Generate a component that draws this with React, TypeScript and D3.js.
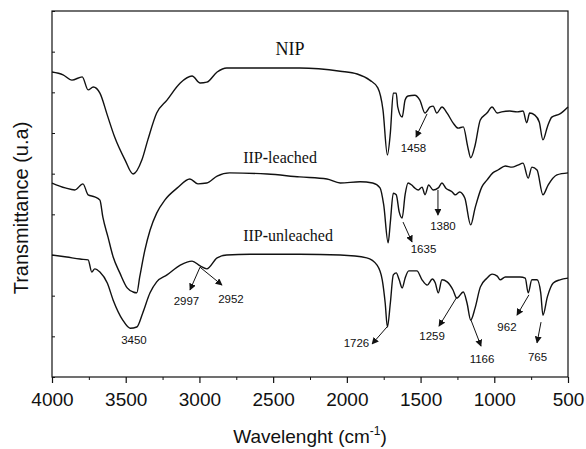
import * as d3 from "d3";
import { useEffect, useRef } from "react";

// FTIR spectra, [wavenumber cm-1, transmittance a.u.]
const nip: [number, number][] = [
  [4000, 75.0], [3925, 74.3], [3865, 73.0], [3795, 73.8], [3755, 70.6], [3720, 71.3],
  [3675, 69.8], [3625, 64.4], [3575, 59.0], [3505, 53.4], [3450, 49.9], [3390, 53.4],
  [3350, 58.3], [3290, 64.9], [3220, 68.1], [3130, 72.3], [3050, 74.0], [2995, 72.3],
  [2950, 72.5], [2880, 75.0], [2815, 76.0], [2655, 76.0], [2320, 76.0], [2045, 75.2],
  [1930, 74.5], [1845, 73.0], [1790, 71.1], [1755, 65.7], [1725, 54.6], [1705, 60.0],
  [1685, 69.8], [1665, 69.8], [1655, 66.4], [1625, 63.9], [1605, 68.1], [1585, 69.1],
  [1540, 69.3], [1505, 68.1], [1470, 64.9], [1435, 66.4], [1415, 66.6], [1390, 64.9],
  [1355, 66.4], [1320, 64.9], [1280, 62.5], [1245, 61.2], [1210, 61.5], [1180, 56.6],
  [1160, 53.9], [1130, 57.0], [1095, 63.2], [1050, 64.9], [1015, 66.4], [980, 64.9],
  [950, 65.2], [895, 65.4], [845, 65.2], [805, 65.4], [780, 62.5], [760, 64.9],
  [725, 64.4], [695, 62.7], [670, 58.3], [640, 61.5], [610, 63.9], [555, 64.7], [500, 66.4],
];

const leached: [number, number][] = [
  [4000, 47.7], [3910, 46.5], [3845, 46.0], [3790, 47.5], [3755, 44.8], [3710, 44.3],
  [3675, 43.5], [3655, 39.3], [3620, 34.4], [3585, 29.5], [3540, 25.6], [3490, 21.9],
  [3450, 20.9], [3425, 20.7], [3405, 24.6], [3370, 31.2], [3335, 36.1], [3290, 40.3],
  [3235, 43.5], [3150, 46.5], [3065, 48.7], [3010, 47.5], [2950, 47.7], [2880, 49.4],
  [2795, 50.2], [2540, 49.9], [2320, 49.2], [2135, 48.7], [2045, 47.7], [1910, 48.0],
  [1825, 47.7], [1775, 46.5], [1750, 42.3], [1720, 33.0], [1705, 38.1], [1685, 45.2],
  [1665, 44.8], [1645, 40.6], [1625, 39.1], [1605, 44.8], [1585, 47.7], [1560, 47.2],
  [1540, 46.5], [1515, 46.0], [1490, 46.7], [1470, 44.8], [1445, 47.2], [1415, 46.0],
  [1380, 46.5], [1355, 47.7], [1330, 46.5], [1285, 45.5], [1265, 44.8], [1235, 45.5],
  [1200, 44.0], [1160, 37.4], [1130, 41.6], [1085, 46.7], [1050, 48.4], [1010, 50.2],
  [975, 50.9], [925, 51.9], [880, 51.6], [840, 52.1], [805, 52.6], [770, 48.9],
  [745, 51.6], [710, 50.9], [670, 44.8], [635, 47.2], [575, 49.7], [500, 50.2],
];

const unleached: [number, number][] = [
  [4000, 30.0], [3900, 29.5], [3810, 29.0], [3755, 28.8], [3730, 25.8], [3710, 26.6],
  [3675, 25.8], [3625, 23.1], [3585, 18.9], [3520, 14.0], [3470, 12.0], [3425, 12.3],
  [3385, 15.7], [3335, 20.7], [3290, 23.4], [3220, 25.1], [3130, 27.5], [3050, 28.5],
  [2995, 27.3], [2950, 26.6], [2880, 29.3], [2815, 30.0], [2655, 30.2], [2320, 30.2],
  [2045, 30.0], [1865, 29.3], [1795, 27.5], [1760, 23.9], [1740, 18.2], [1725, 12.3],
  [1705, 18.2], [1685, 25.1], [1665, 25.6], [1645, 23.9], [1625, 21.9], [1605, 24.3],
  [1580, 26.1], [1525, 26.1], [1490, 23.9], [1455, 22.6], [1420, 24.1], [1400, 23.1],
  [1380, 20.7], [1355, 23.9], [1320, 23.4], [1280, 21.4], [1255, 19.4], [1210, 20.9],
  [1185, 18.2], [1160, 14.0], [1130, 17.0], [1095, 22.1], [1050, 24.3], [1015, 25.3],
  [980, 24.8], [960, 23.9], [925, 24.6], [880, 24.6], [825, 24.6], [790, 24.3],
  [770, 20.7], [745, 23.9], [710, 23.9], [685, 20.7], [670, 15.2], [640, 19.7],
  [600, 23.1], [555, 23.9], [500, 24.3],
];

const seriesNames = ["NIP", "IIP-leached", "IIP-unleached"];
// label anchor in data units [wavenumber, value]
const seriesLabelAt: [number, number][] = [[2386, 79.2], [2453, 52.6], [2399, 33.4]];

// peak labels: text, text anchor, arrow from, arrow to (data units)
const peakText = ["1458", "1380", "1635", "3450", "2997", "2952", "1726", "1259", "1166", "962", "765"];
const peakTextAt: [number, number][] = [
  [1548, 55.3], [1348, 36.1], [1480, 30.5], [3444, 8.1], [3088, 17.7], [2786, 18.2],
  [1935, 7.4], [1422, 9.1], [1083, 3.4], [914, 11.3], [707, 3.9],
];
const peakArrowFrom: ([number, number] | null)[] = [
  [1456, 64.7], [1382, 46.0], [1619, 38.1], null, [2996, 27.0], [2996, 27.0],
  [1728, 12.3], [1253, 19.7], [1158, 14.0], [765, 20.2], [683, 13.5],
];
const peakArrowTo: ([number, number] | null)[] = [
  [1531, 59.0], [1382, 39.8], [1558, 33.2], null, [3064, 21.4], [2847, 22.6],
  [1829, 8.1], [1375, 12.5], [1090, 7.6], [846, 15.2], [710, 8.4],
];

const xTicks = [4000, 3500, 3000, 2500, 2000, 1500, 1000, 500];
const xMinorTicks = [3750, 3250, 2750, 2250, 1750, 1250, 750];
const yTicks = [0, 10, 20, 30, 40, 50, 60, 70, 80, 90];

const W = 586;
const H = 449;
const left = 52, right = 568, top = 11, bottom = 377;

const sans = "'Liberation Sans', Arial, sans-serif";
const serif = "'Liberation Serif', 'Times New Roman', serif";

export default function App() {
  const svgRef = useRef<SVGSVGElement>(null);

  useEffect(() => {
    const svg = d3.select(svgRef.current);
    svg.selectAll("*").remove();

    const x = d3.scaleLinear().domain([4000, 500]).range([left, right]);
    const y = d3.scaleLinear().domain([0, 90]).range([bottom, top]);

    svg.append("defs").append("marker")
      .attr("id", "arr")
      .attr("viewBox", "0 0 10 10")
      .attr("refX", 9).attr("refY", 5)
      .attr("markerWidth", 7).attr("markerHeight", 7)
      .attr("markerUnits", "userSpaceOnUse")
      .attr("orient", "auto")
      .append("path").attr("d", "M0,0 L10,5 L0,10 Z").attr("fill", "#111");

    // frame
    svg.append("rect")
      .attr("x", left).attr("y", top)
      .attr("width", right - left).attr("height", bottom - top)
      .attr("fill", "none").attr("stroke", "#111").attr("stroke-width", 1.2);

    // x axis
    const xAxis = d3.axisBottom(x).tickValues(xTicks).tickSize(6).tickSizeOuter(0).tickPadding(10)
      .tickFormat(d3.format("d"));
    const gx = svg.append("g").attr("transform", `translate(0,${bottom})`).call(xAxis);
    gx.select(".domain").remove();
    gx.selectAll("line").attr("stroke", "#111").attr("stroke-width", 1.2);
    gx.selectAll("text").attr("font-family", sans).attr("font-size", 19).attr("fill", "#111");

    const gxm = svg.append("g").attr("transform", `translate(0,${bottom})`)
      .call(d3.axisBottom(x).tickValues(xMinorTicks).tickSize(3).tickFormat(() => ""));
    gxm.select(".domain").remove();
    gxm.selectAll("line").attr("stroke", "#111").attr("stroke-width", 1);

    // y axis, inward ticks only
    const gy = svg.append("g").attr("transform", `translate(${left},0)`)
      .call(d3.axisLeft(y).tickValues(yTicks).tickSize(-3).tickFormat(() => ""));
    gy.select(".domain").remove();
    gy.selectAll("line").attr("stroke", "#111").attr("stroke-width", 1);

    // spectra
    const line = d3.line<[number, number]>()
      .x((d) => x(d[0]))
      .y((d) => y(d[1]))
      .curve(d3.curveMonotoneX);

    [nip, leached, unleached].forEach((s) => {
      svg.append("path")
        .attr("d", line(s))
        .attr("fill", "none")
        .attr("stroke", "#111")
        .attr("stroke-width", 1.4)
        .attr("stroke-linejoin", "round");
    });

    // series labels
    seriesNames.forEach((name, i) => {
      const t = svg.append("text")
        .attr("x", x(seriesLabelAt[i][0]))
        .attr("y", y(seriesLabelAt[i][1]))
        .attr("text-anchor", "middle")
        .attr("font-family", serif)
        .attr("font-size", i === 0 ? 18 : 16)
        .attr("fill", "#111");
      const parts = name.split("-");
      parts.forEach((p, j) => {
        if (j > 0) t.append("tspan").attr("font-weight", "bold").text("-");
        t.append("tspan").text(p);
      });
    });

    // peak labels + arrows
    peakText.forEach((txt, i) => {
      svg.append("text")
        .attr("x", x(peakTextAt[i][0]))
        .attr("y", y(peakTextAt[i][1]))
        .attr("text-anchor", "middle")
        .attr("font-family", sans)
        .attr("font-size", 11.5)
        .attr("fill", "#111")
        .text(txt);
      const a = peakArrowFrom[i];
      const b = peakArrowTo[i];
      if (a && b) {
        svg.append("line")
          .attr("x1", x(a[0])).attr("y1", y(a[1]))
          .attr("x2", x(b[0])).attr("y2", y(b[1]))
          .attr("stroke", "#111").attr("stroke-width", 1)
          .attr("marker-end", "url(#arr)");
      }
    });

    // axis titles
    const xt = svg.append("text")
      .attr("x", (left + right) / 2).attr("y", 443)
      .attr("text-anchor", "middle")
      .attr("font-family", sans).attr("font-size", 19).attr("fill", "#111");
    xt.append("tspan").text("Wavelenght (cm");
    xt.append("tspan").attr("dy", -8).attr("font-size", 12).text("-1");
    xt.append("tspan").attr("dy", 8).text(")");

    svg.append("text")
      .attr("transform", `translate(28,${(118 + 298) / 2}) rotate(-90)`)
      .attr("text-anchor", "middle")
      .attr("font-family", sans).attr("font-size", 20).attr("fill", "#111")
      .text("Transmittance (u.a)");
  }, []);

  return (
    <svg
      ref={svgRef}
      width={W}
      height={H}
      style={{ position: "absolute", left: 0, top: 0, background: "#fff" }}
    />
  );
}
